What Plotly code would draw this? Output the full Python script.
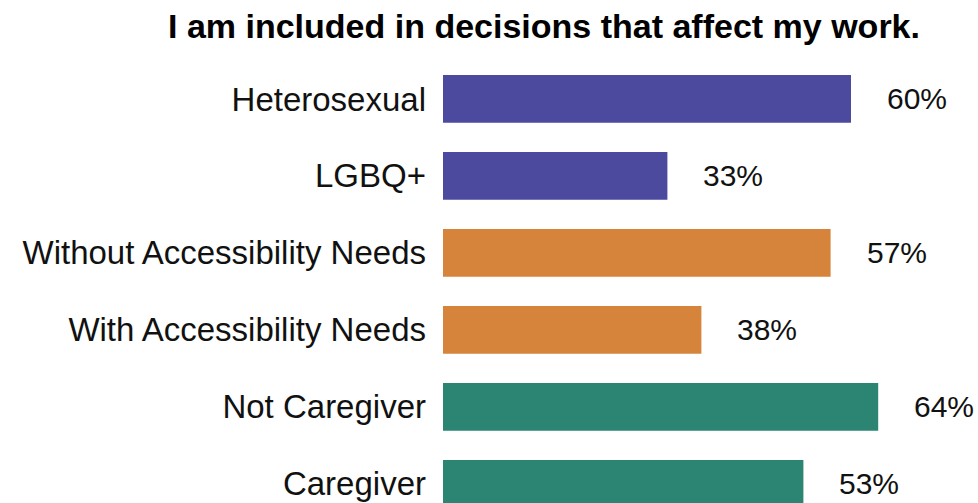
import plotly.graph_objects as go

# Share agreeing with the statement, by respondent group
groups = [
    "Heterosexual",
    "LGBQ+",
    "Without Accessibility Needs",
    "With Accessibility Needs",
    "Not Caregiver",
    "Caregiver",
]
agree_pct = [60, 33, 57, 38, 64, 53]
bar_colors = ["#4c4a9f", "#4c4a9f", "#d6843c", "#d6843c", "#2b8572", "#2b8572"]

title_text = "I am included in decisions that affect my work."

fig = go.Figure(
    go.Bar(
        x=agree_pct,
        y=groups,
        orientation="h",
        marker=dict(color=bar_colors, line=dict(width=0)),
        hoverinfo="skip",
    )
)

# Percentage labels to the right of each bar
for g, v in zip(groups, agree_pct):
    fig.add_annotation(
        x=v, y=g, xref="x", yref="y",
        text=f"{v}%",
        showarrow=False,
        xanchor="left", yanchor="middle",
        xshift=34,
        font=dict(family="Liberation Sans, Arial, sans-serif", size=30, color="#111111"),
    )

fig.update_layout(
    width=978,
    height=503,
    margin=dict(l=443, r=0, t=60, b=0),
    paper_bgcolor="white",
    plot_bgcolor="white",
    bargap=0.38,
    showlegend=False,
    title=dict(
        text=f"<b>{title_text}</b>",
        x=544 / 978, xanchor="center", xref="container",
        y=1 - 26 / 503, yanchor="middle", yref="container",
        font=dict(family="Liberation Sans, Arial, sans-serif", size=34, color="#000000"),
    ),
    xaxis=dict(
        range=[0, 535 / 6.8],
        visible=False,
        showgrid=False,
        zeroline=False,
    ),
    yaxis=dict(
        type="category",
        categoryorder="array",
        categoryarray=groups,
        range=[5.25, -0.506],
        showgrid=False,
        zeroline=False,
        showline=False,
        ticks="",
        ticklabelstandoff=16,
        tickfont=dict(family="Liberation Sans, Arial, sans-serif", size=33, color="#111111"),
    ),
)

fig.write_html("out.html")
